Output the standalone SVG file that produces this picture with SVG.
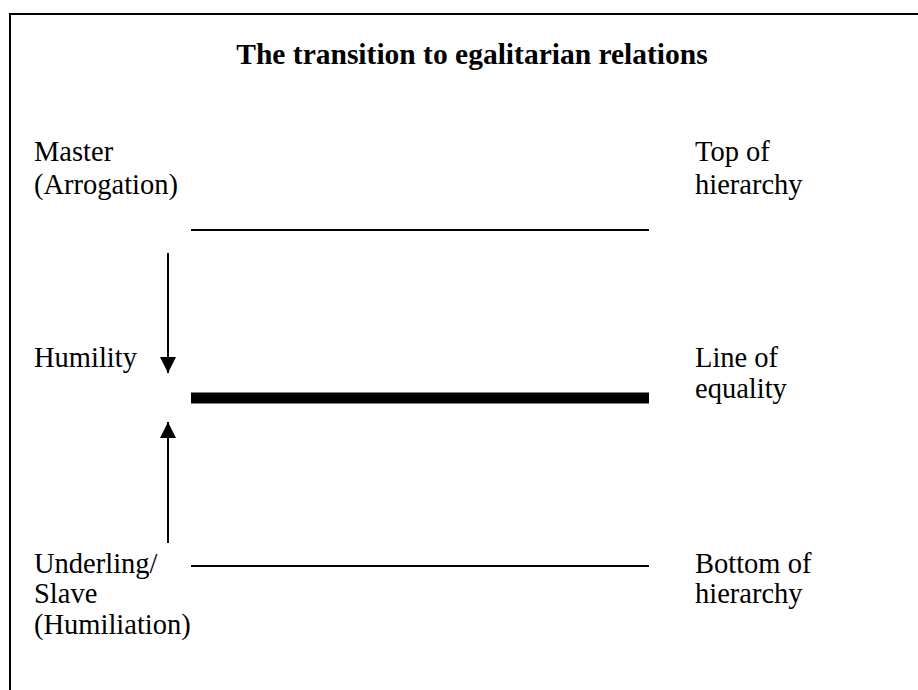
<svg xmlns="http://www.w3.org/2000/svg" width="918" height="690" viewBox="0 0 918 690">
  <defs>
    <style>
      .lbl { font-family: "Liberation Serif", "Times New Roman", serif; font-size: 28.5px; fill: #000; }
      .title { font-family: "Liberation Serif", "Times New Roman", serif; font-size: 29.5px; font-weight: bold; fill: #000; }
      .level { stroke: #000; stroke-width: 2; }
      .arrow { stroke: #000; stroke-width: 2; fill: none; }
    </style>
    <marker id="head" viewBox="0 0 16 16" refX="16" refY="8" markerWidth="16" markerHeight="16" markerUnits="userSpaceOnUse" orient="auto">
      <path d="M0,0 L16,8 L0,16 Z" fill="#000"/>
    </marker>
  </defs>
  <rect width="918" height="690" fill="#fff"/>
  <!-- frame (runs off the right and bottom edges) -->
  <rect x="10" y="14" width="930" height="700" fill="none" stroke="#000" stroke-width="2"/>

  <text class="title" x="472" y="64" text-anchor="middle">The transition to egalitarian relations</text>

  <g id="master">
    <text class="lbl" x="34" y="161">Master</text>
    <text class="lbl" x="34" y="194">(Arrogation)</text>
  </g>
  <g id="humility">
    <text class="lbl" x="34" y="367">Humility</text>
  </g>
  <g id="underling">
    <text class="lbl" x="34" y="573">Underling/</text>
    <text class="lbl" x="34" y="603">Slave</text>
    <text class="lbl" x="34" y="634">(Humiliation)</text>
  </g>
  <g id="top">
    <text class="lbl" x="695" y="161">Top of</text>
    <text class="lbl" x="695" y="194">hierarchy</text>
  </g>
  <g id="equality">
    <text class="lbl" x="695" y="367">Line of</text>
    <text class="lbl" x="695" y="398">equality</text>
  </g>
  <g id="bottom">
    <text class="lbl" x="695" y="573">Bottom of</text>
    <text class="lbl" x="695" y="603">hierarchy</text>
  </g>

  <g id="levels">
    <line class="level" x1="191" y1="230" x2="649" y2="230"/>
    <line x1="191" y1="398" x2="649" y2="398" stroke="#000" stroke-width="11"/>
    <line class="level" x1="191" y1="566" x2="649" y2="566"/>
  </g>

  <g id="connectors">
    <line class="arrow" x1="168" y1="253" x2="168" y2="373" marker-end="url(#head)"/>
    <line class="arrow" x1="168" y1="543" x2="168" y2="422" marker-end="url(#head)"/>
  </g>
</svg>
